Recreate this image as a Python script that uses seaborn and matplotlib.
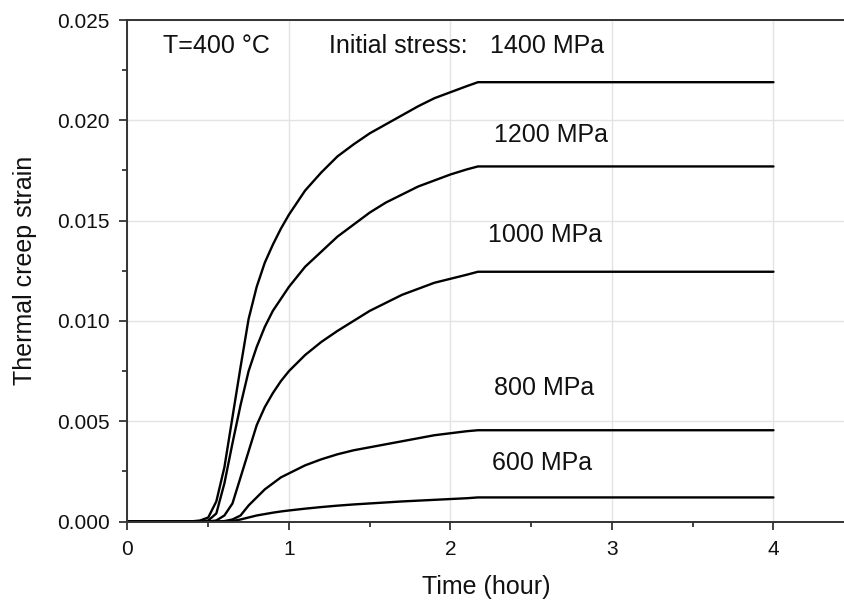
import numpy as np
import pandas as pd
import matplotlib
matplotlib.use("Agg")
import matplotlib.pyplot as plt
import seaborn as sns
from matplotlib.ticker import AutoMinorLocator, FormatStrFormatter

# ---- data ----
time_h = [0.0, 0.35, 0.40, 0.45, 0.50, 0.55, 0.60, 0.65, 0.70, 0.75, 0.80, 0.85, 0.90, 0.95,
          1.00, 1.10, 1.20, 1.30, 1.40, 1.50, 1.60, 1.70, 1.80, 1.90, 2.00, 2.10, 2.17, 3.00, 4.00]
strain_1400 = [0, 0, 0.00001, 0.00005, 0.0002, 0.0010, 0.0027, 0.0052, 0.0077, 0.0101, 0.0117,
               0.0129, 0.0138, 0.0146, 0.0153, 0.0165, 0.0174, 0.0182, 0.0188, 0.01935, 0.0198,
               0.02025, 0.0207, 0.0211, 0.0214, 0.0217, 0.0219, 0.0219, 0.0219]
strain_1200 = [0, 0, 0, 0, 0.00005, 0.0004, 0.0019, 0.0039, 0.0058, 0.0075, 0.0087,
               0.0097, 0.0105, 0.0111, 0.0117, 0.0127, 0.01345, 0.0142, 0.0148, 0.0154, 0.0159,
               0.0163, 0.0167, 0.0170, 0.0173, 0.01755, 0.0177, 0.0177, 0.0177]
strain_1000 = [0, 0, 0, 0, 0, 0.00005, 0.0003, 0.0009, 0.0022, 0.0035, 0.0048,
               0.0057, 0.0064, 0.0070, 0.0075, 0.0083, 0.00895, 0.0095, 0.0100, 0.0105, 0.0109,
               0.0113, 0.0116, 0.0119, 0.0121, 0.0123, 0.01245, 0.01245, 0.01245]
strain_800 = [0, 0, 0, 0, 0, 0, 0.00002, 0.0001, 0.0003, 0.0008, 0.0012,
              0.0016, 0.0019, 0.0022, 0.0024, 0.0028, 0.0031, 0.00335, 0.00355, 0.0037, 0.00385,
              0.0040, 0.00415, 0.0043, 0.0044, 0.0045, 0.00455, 0.00455, 0.00455]
strain_600 = [0, 0, 0, 0, 0, 0, 0, 0.00002, 0.0001, 0.0002, 0.0003,
              0.00037, 0.00044, 0.0005, 0.00055, 0.00064, 0.00072, 0.00079, 0.00085, 0.0009, 0.00095,
              0.0010, 0.00104, 0.00108, 0.00112, 0.00116, 0.0012, 0.0012, 0.0012]
stress_labels = ["1400 MPa", "1200 MPa", "1000 MPa", "800 MPa", "600 MPa"]
label_x = [2.245, 2.27, 2.23, 2.27, 2.26]
label_y = [0.0237, 0.01925, 0.01427, 0.00665, 0.00291]
x_ticks = [0, 1, 2, 3, 4]
y_ticks = [0.000, 0.005, 0.010, 0.015, 0.020, 0.025]

series = [strain_1400, strain_1200, strain_1000, strain_800, strain_600]
df = pd.concat([pd.DataFrame({"time": time_h, "strain": s, "stress": lab})
                for s, lab in zip(series, stress_labels)], ignore_index=True)

sns.set_style("ticks")
plt.rcParams['font.family'] = ['Liberation Sans', 'DejaVu Sans']

fig = plt.figure(figsize=(8.45, 6.06), dpi=100)
ax = fig.add_axes([127.5 / 845, 84.5 / 606, (845 - 127.5) / 845, 501.5 / 606])

sns.lineplot(data=df, x="time", y="strain", units="stress", estimator=None,
             color="black", linewidth=1.7, ax=ax, legend=False, sort=False)

ax.set_xlim(0, 4.443)
ax.set_ylim(0, 0.025)
ax.set_xticks(x_ticks)
ax.set_yticks(y_ticks)
ax.yaxis.set_major_formatter(FormatStrFormatter('%.3f'))
ax.xaxis.set_minor_locator(AutoMinorLocator(2))
ax.yaxis.set_minor_locator(AutoMinorLocator(2))
ax.tick_params(axis='both', which='major', direction='out', length=6, width=1.2,
               labelsize=15, color='#222222', labelcolor='#111111')
ax.tick_params(axis='x', which='major', pad=7)
ax.tick_params(axis='y', which='major', pad=7)
ax.tick_params(axis='both', which='minor', direction='out', length=3.5, width=1.2, color='#222222')

ax.grid(True, which='major', color='#e3e3e3', linewidth=1.0)
ax.set_axisbelow(True)
for side in ['left', 'bottom', 'top']:
    ax.spines[side].set_color('#333333')
    ax.spines[side].set_linewidth(1.4)
ax.spines['right'].set_visible(False)

ax.set_xlabel("Time (hour)", fontsize=18, labelpad=12, color='#111111')
ax.set_ylabel("Thermal creep strain", fontsize=18, labelpad=14, color='#111111')

ax.text(0.22, 0.0237, "T=400 °C", fontsize=18, va='center', ha='left', color='#111111')
ax.text(1.25, 0.0237, "Initial stress:", fontsize=18, va='center', ha='left', color='#111111')
for lab, lx, ly in zip(stress_labels, label_x, label_y):
    ax.text(lx, ly, lab, fontsize=18, va='center', ha='left', color='#111111')

fig.savefig("out.png", dpi=100)
